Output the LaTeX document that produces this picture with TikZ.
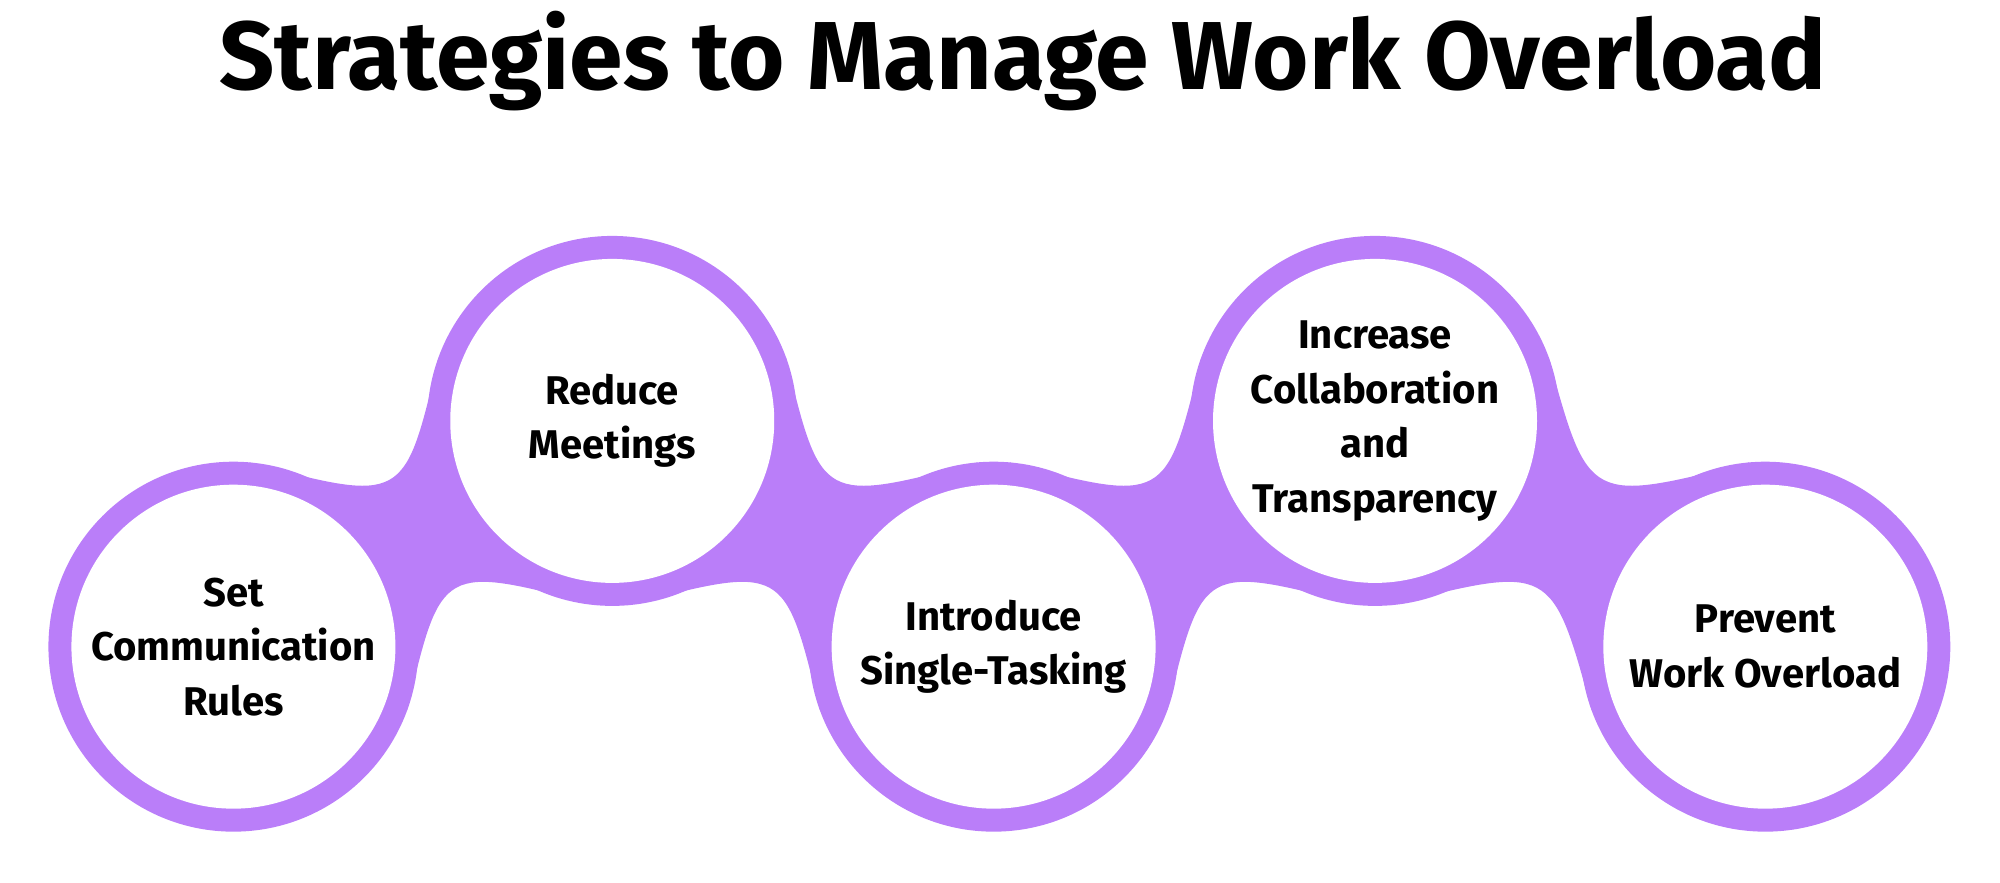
\documentclass[tikz,border=0pt]{standalone}
\usepackage{fontspec}
\setmainfont{Fira Sans}
\usetikzlibrary{calc}
\definecolor{ringc}{HTML}{BA7EF9}
\begin{document}
\begin{tikzpicture}[x=0.012755cm,y=0.012755cm,
  ring/.style={circle,minimum size=3.7cm,inner sep=0pt,fill=ringc},
  face/.style={circle,minimum size=3.24cm,inner sep=0pt,fill=white,
    align=center,font=\bfseries\fontsize{11.4}{15.5}\selectfont},
  bridge/.style={fill=ringc}]
  \useasboundingbox (0,0) rectangle (1568,692);
  % title
  \node[font=\bfseries\fontsize{27.5}{33}\selectfont] (title) at (802,644) {Strategies to Manage Work Overload};
  % ring centres
  \coordinate (c1) at (183,185);
  \coordinate (c2) at (480,362);
  \coordinate (c3) at (779,185);
  \coordinate (c4) at (1078,362);
  \coordinate (c5) at (1384,185);
  % bridges up
  \foreach \a/\b in {c1/c2,c3/c4}{
    \fill[bridge] ($(\a)+(85:145)$) .. controls ($(\a)!0.5!(\b)+(121:28)$) .. ($(\b)+(160:145)$)
      -- ($(\b)+(265:145)$) .. controls ($(\a)!0.5!(\b)+(-59:28)$) .. ($(\a)+(-20:145)$) -- cycle;
  }
  % bridges down
  \foreach \a/\b in {c2/c3,c4/c5}{
    \fill[bridge] ($(\a)+(20:145)$) .. controls ($(\a)!0.5!(\b)+(59:28)$) .. ($(\b)+(95:145)$)
      -- ($(\b)+(200:145)$) .. controls ($(\a)!0.5!(\b)+(-121:28)$) .. ($(\a)+(-85:145)$) -- cycle;
  }
  % rings
  \foreach \c in {c1,c2,c3,c4,c5} \node[ring] at (\c) {};
  \node[face] (n1) at (c1) {Set\\Communication\\Rules};
  \node[face] (n2) at (c2) {Reduce\\Meetings};
  \node[face] (n3) at (c3) {Introduce\\Single-Tasking};
  \node[face] (n4) at (c4) {Increase\\Collaboration\\and\\Transparency};
  \node[face] (n5) at (c5) {Prevent\\Work Overload};
\end{tikzpicture}
\end{document}
